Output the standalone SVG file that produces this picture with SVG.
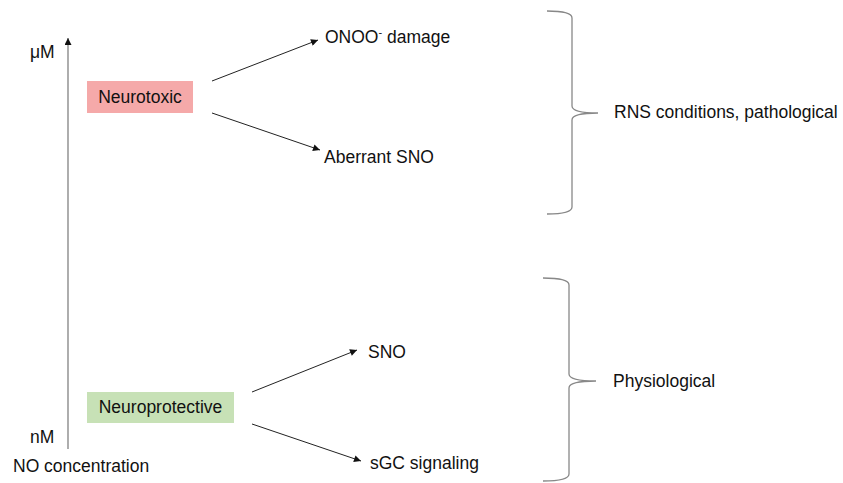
<svg xmlns="http://www.w3.org/2000/svg" width="843" height="483" viewBox="0 0 843 483">
  <defs>
    <style>
      text { font-family: "Liberation Sans", Arial, sans-serif; font-size: 17.5px; fill: #111; }
      .conn { stroke: #222; stroke-width: 1; fill: none; }
      .axis { stroke: #777; stroke-width: 1.2; fill: none; }
      .brace { stroke: #888; stroke-width: 1.3; fill: none; }
    </style>
    <marker id="arrow" viewBox="0 0 10 10" refX="10" refY="5" markerWidth="9" markerHeight="7" markerUnits="userSpaceOnUse" orient="auto">
      <path d="M0,0 L10,5 L0,10 Z" fill="#111"/>
    </marker>
  </defs>
  <rect width="843" height="483" fill="#ffffff"/>

  <g id="axis">
    <line class="axis" x1="68" y1="449" x2="68" y2="38" marker-end="url(#arrow)"/>
    <text x="30" y="58">μM</text>
    <text x="30" y="443">nM</text>
    <text x="13" y="472">NO concentration</text>
  </g>

  <g id="neurotoxic">
    <rect x="87" y="81" width="106" height="32" fill="#F5A9A9"/>
    <text x="140" y="103" text-anchor="middle">Neurotoxic</text>
  </g>

  <g id="neuroprotective">
    <rect x="87" y="392" width="147" height="31" fill="#C7E1B6"/>
    <text x="160.5" y="413" text-anchor="middle">Neuroprotective</text>
  </g>

  <g id="onoo">
    <text x="325" y="43">ONOO<tspan font-size="11" dy="-7">-</tspan><tspan dy="7"> damage</tspan></text>
  </g>

  <g id="aberrant-sno">
    <text x="324" y="163">Aberrant SNO</text>
  </g>

  <g id="sno">
    <text x="368" y="358">SNO</text>
  </g>

  <g id="sgc">
    <text x="370" y="469">sGC signaling</text>
  </g>

  <g id="rns">
    <path class="brace" d="M547,11 Q572,11 572,18 L572,106 Q572,113 598,113 Q572,113 572,120 L572,207 Q572,214 547,214"/>
    <text x="614" y="118">RNS conditions, pathological</text>
  </g>

  <g id="physiological">
    <path class="brace" d="M543,278 Q569,278 569,285 L569,374 Q569,381 596,381 Q569,381 569,388 L569,474 Q569,481 543,481"/>
    <text x="613" y="387">Physiological</text>
  </g>

  <g id="connectors">
    <line class="conn" x1="212" y1="81" x2="318" y2="40" marker-end="url(#arrow)"/>
    <line class="conn" x1="212" y1="113" x2="320" y2="150" marker-end="url(#arrow)"/>
    <line class="conn" x1="252" y1="392" x2="357" y2="350" marker-end="url(#arrow)"/>
    <line class="conn" x1="252" y1="424" x2="361" y2="461" marker-end="url(#arrow)"/>
  </g>
</svg>
